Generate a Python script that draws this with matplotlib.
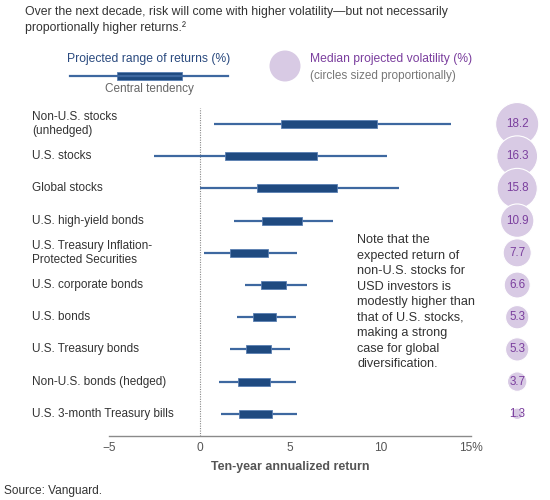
import matplotlib
matplotlib.use("Agg")
import matplotlib.pyplot as plt
from matplotlib.patches import Rectangle, Ellipse
from matplotlib.lines import Line2D
import matplotlib.transforms as mtransforms

plt.rcParams['font.family'] = ['Liberation Sans', 'DejaVu Sans']

categories = ["Non-U.S. stocks\n(unhedged)", "U.S. stocks", "Global stocks",
              "U.S. high-yield bonds", "U.S. Treasury Inflation-\nProtected Securities",
              "U.S. corporate bonds", "U.S. bonds", "U.S. Treasury bonds",
              "Non-U.S. bonds (hedged)", "U.S. 3-month Treasury bills"]
range_low = [0.8, -2.5, 0.0, 1.9, 0.25, 2.5, 2.05, 1.7, 1.1, 1.2]
range_high = [13.9, 10.35, 11.0, 7.35, 5.4, 5.95, 5.35, 5.0, 5.35, 5.4]
central_low = [4.5, 1.4, 3.2, 3.45, 1.7, 3.4, 2.95, 2.55, 2.15, 2.2]
central_high = [9.8, 6.5, 7.6, 5.65, 3.8, 4.8, 4.25, 3.95, 3.9, 4.0]
volatility = [18.2, 16.3, 15.8, 10.9, 7.7, 6.6, 5.3, 5.3, 3.7, 1.3]
xticks = [-5, 0, 5, 10, 15]
xticklabels = ["\u22125", "0", "5", "10", "15%"]

W, H = 550, 500
fig = plt.figure(figsize=(5.5, 5.0), dpi=100)

def fx(x):
    return x / W

def fy(y):
    return 1 - y / H

NAVY = "#1f4a80"
LINE = "#3e68a0"
PURPLE_FILL = "#d8cae4"
PURPLE_TXT = "#7b3f9e"
GRAY = "#555555"
DARK = "#333333"

ax = fig.add_axes([fx(109), fy(436), fx(471) - fx(109), (436 - 108) / H])
n = len(categories)
ax.set_xlim(-5, 15)
ax.set_ylim(n - 0.31, -0.5)

for i in range(n):
    ax.plot([range_low[i], range_high[i]], [i, i], color=LINE, lw=1.6,
            solid_capstyle='butt', zorder=2)
    ax.add_patch(Rectangle((central_low[i], i - 0.125), central_high[i] - central_low[i], 0.25,
                           facecolor=NAVY, edgecolor="#5a7fb3", lw=0.6, zorder=3))

ax.axvline(0, ls=(0, (1, 1.2)), color="#888888", lw=0.8, zorder=1)

for s in ["top", "right", "left"]:
    ax.spines[s].set_visible(False)
ax.spines["bottom"].set_color("#8a8a8a")
ax.spines["bottom"].set_linewidth(1.0)
ax.set_yticks([])
ax.set_xticks(xticks)
ax.set_xticklabels(xticklabels)
ax.tick_params(axis='x', length=0, pad=4.5, labelsize=8.6, labelcolor=GRAY)
ax.set_xlabel("Ten-year annualized return", fontsize=8.9, fontweight='bold',
              color=GRAY, labelpad=5)

# bubbles
bx = (516 - 198.3) / 18.1
ax.scatter([bx] * n, list(range(n)), s=[53 * v for v in volatility],
           color=PURPLE_FILL, edgecolor="white", linewidth=0.8, clip_on=False, zorder=4)
for i, v in enumerate(volatility):
    ax.text(bx, i, f"{v}", ha='center', va='center', fontsize=8.4,
            color=PURPLE_TXT, zorder=5, clip_on=False)

# category labels
trans = mtransforms.blended_transform_factory(fig.transFigure, ax.transData)
for i, c in enumerate(categories):
    ax.text(fx(32), i, c, transform=trans, ha='left', va='center', fontsize=8.5,
            color=DARK, linespacing=1.2)

# title
fig.text(fx(25), fy(6), "Over the next decade, risk will come with higher volatility\u2014but not necessarily\n"
         "proportionally higher returns.\u00b2", ha='left', va='top', fontsize=8.8,
         color=DARK, linespacing=1.3)

# legend: range
fig.text(fx(149), fy(59), "Projected range of returns (%)", ha='center', va='center',
         fontsize=8.7, color="#2a4a7f")
fig.add_artist(Line2D([fx(70), fx(228)], [fy(76), fy(76)], color=LINE, lw=1.6,
                      transform=fig.transFigure))
fig.add_artist(Rectangle((fx(117), fy(80)), fx(182) - fx(117), 8 / H, facecolor=NAVY,
                         edgecolor="#5a7fb3", lw=0.6, transform=fig.transFigure))
fig.text(fx(149), fy(89), "Central tendency", ha='center', va='center',
         fontsize=8.5, color="#666666")

# legend: volatility
fig.add_artist(Ellipse((fx(285), fy(66)), 31 / W, 31 / H, facecolor=PURPLE_FILL,
                       edgecolor='none', transform=fig.transFigure))
fig.text(fx(310), fy(59), "Median projected volatility (%)", ha='left', va='center',
         fontsize=8.7, color=PURPLE_TXT)
fig.text(fx(310), fy(76), "(circles sized proportionally)", ha='left', va='center',
         fontsize=8.5, color="#777777")

# note
fig.text(fx(357), fy(234), "Note that the\nexpected return of\nnon-U.S. stocks for\n"
         "USD investors is\nmodestly higher than\nthat of U.S. stocks,\nmaking a strong\n"
         "case for global\ndiversification.", ha='left', va='top', fontsize=9.1,
         color=DARK, linespacing=1.39)

fig.text(fx(4), fy(491), "Source: Vanguard.", ha='left', va='center', fontsize=8.6,
         color=DARK)

fig.savefig("out.png", dpi=100)
